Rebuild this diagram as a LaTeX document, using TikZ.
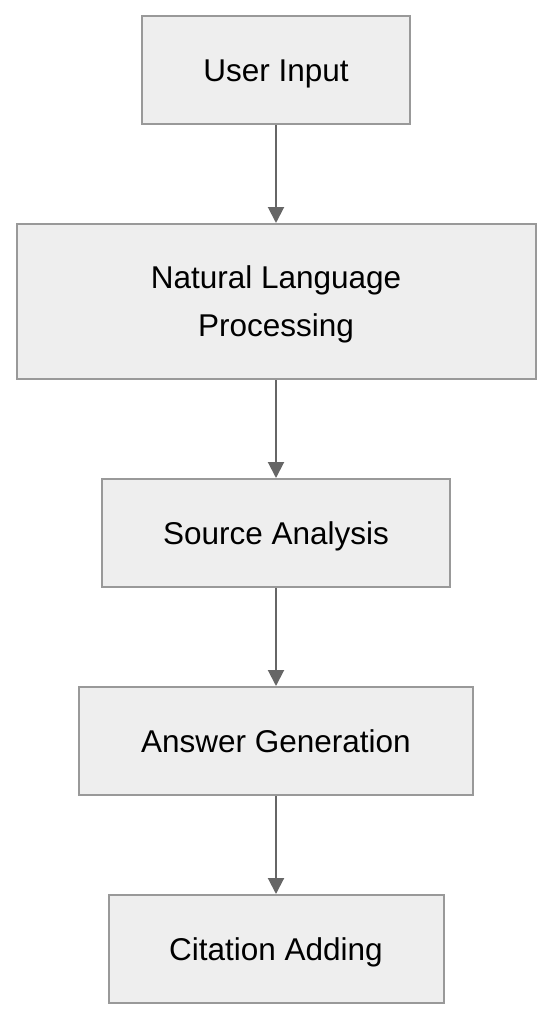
\documentclass[tikz,border=0pt]{standalone}
\usepackage{fontspec}
\setmainfont{Liberation Sans}
\usetikzlibrary{arrows.meta,positioning}
\definecolor{boxedge}{HTML}{999999}
\definecolor{boxfill}{HTML}{EEEEEE}
\definecolor{linkgray}{HTML}{666666}
\tikzset
{
    stagenode/.style = {draw=boxedge, fill=boxfill, line width=2pt, align=center, inner sep=0pt, minimum height=108pt, text height=22.6pt, text depth=0pt, font=\fontsize{31.5}{48}\selectfont},
    stagelink/.style = {draw=linkgray, line width=2pt, -{Triangle[width=16pt,length=16pt]}}
}
\begin{document}
\begin{tikzpicture}[node distance=98pt]
    \useasboundingbox (0,0) rectangle (552pt,-1020pt);
    \node [stagenode, minimum width=268pt] (input) at (276pt,-70pt) {User Input};
    \node [stagenode, minimum width=519pt, minimum height=155pt, text height=70.6pt, below=of input] (nlp) {Natural Language\\Processing};
    \node [stagenode, minimum width=348pt, below=of nlp] (analysis) {Source Analysis};
    \node [stagenode, minimum width=394pt, below=of analysis] (answer) {Answer Generation};
    \node [stagenode, minimum width=335pt, below=of answer] (citation) {Citation Adding};

    \draw [stagelink] (input) -- (nlp);
    \draw [stagelink] (nlp) -- (analysis);
    \draw [stagelink] (analysis) -- (answer);
    \draw [stagelink] (answer) -- (citation);
\end{tikzpicture}
\end{document}
